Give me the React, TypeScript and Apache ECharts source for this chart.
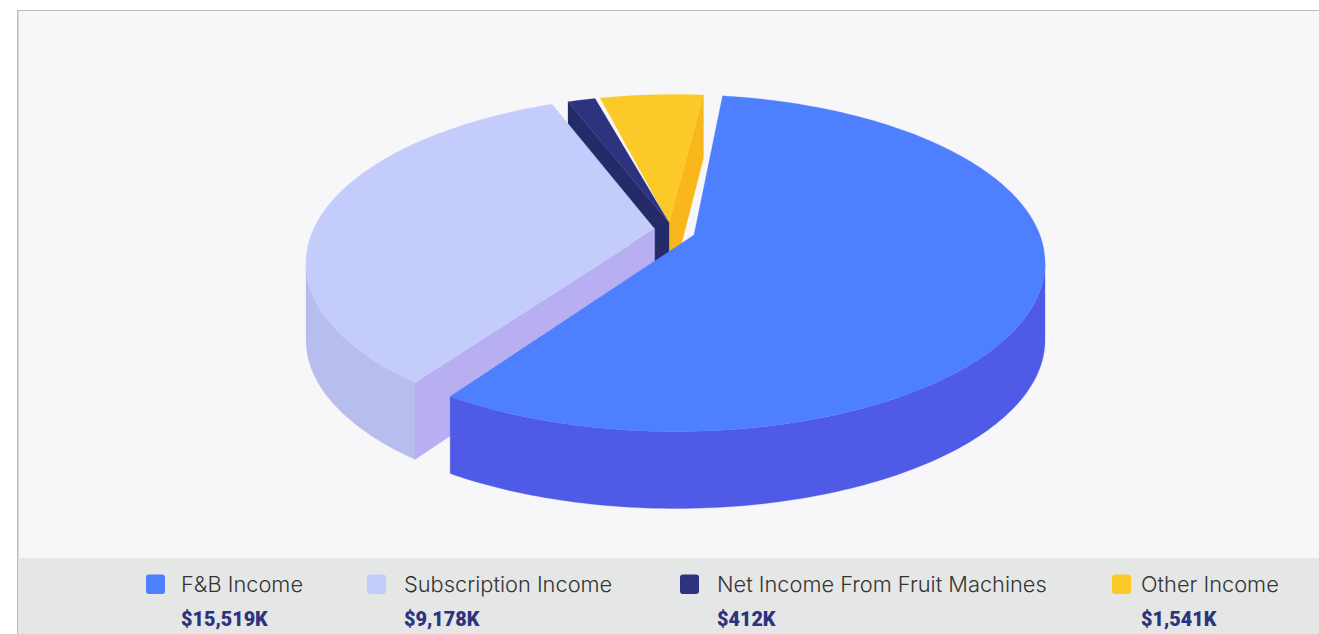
import React, { useEffect, useRef } from "react";
import * as echarts from "echarts";

const categories = ["F&B Income", "Subscription Income", "Net Income From Fruit Machines", "Other Income"];
const values = [15519, 9178, 412, 1541];
const topColors = ["#4d7fff", "#c4ccfb", "#2d337f", "#fbca28"];
const rimWallColors = ["#4f5ae6", "#b7bdec", "#252a68", "#f9b71c"];
const cutWallColors = ["#4f5ae6", "#b8aef2", "#252a68", "#f9b71c"];

// Layout of the tilted pie (not data)
const CX = 675.5, CY = 263, RX = 369.5, RY = 168.5, PERSP = 0.215, DEPTH = 77, BACK_LOSS = 14;
const START_ANGLE = 9.1;
const gapsAfter = [6.1, 3.2, 1.0, 3.7];
const apexShift = [[18.5, 8.2], [-20.8, 2.2], [-6.5, -4.1], [-6.5, -4.1]];
const paintOrder = [3, 2, 1, 0];
const legendX = [146, 367, 680, 1112];
const legendTextX = [181, 404, 717, 1141];

const total = values.reduce((a, b) => a + b, 0);
const usable = 360 - gapsAfter.reduce((a, b) => a + b, 0);
const angles: [number, number][] = [];
{
  let a = START_ANGLE;
  values.forEach((v, i) => {
    const end = a + (v / total) * usable;
    angles.push([a, end]);
    a = end + gapsAfter[i];
  });
}

const rim = (deg: number) => {
  const t = (deg * Math.PI) / 180;
  const X = Math.sin(t), Z = Math.cos(t), d = 1 + PERSP * Z;
  return [CX + (RX * X * Math.sqrt(1 - PERSP * PERSP)) / d, CY - (RY * (Z + PERSP)) / d];
};
const depthAt = (deg: number) => DEPTH - BACK_LOSS * Math.max(0, Math.cos((deg * Math.PI) / 180));
const arcPts = (a: number, b: number) => {
  const n = Math.max(2, Math.ceil(Math.abs(b - a)));
  const out: number[][] = [];
  for (let i = 0; i <= n; i++) out.push(rim(a + ((b - a) * i) / n));
  return out;
};
const lowered = (deg: number) => {
  const p = rim(deg);
  return [p[0], p[1] + depthAt(deg)];
};
// angles at which the rim reaches its widest points: the wall is seen only between them
const SILHOUETTE_RIGHT = (Math.acos(-PERSP) * 180) / Math.PI;
const SILHOUETTE_LEFT = 360 - SILHOUETTE_RIGHT;

const renderSlice = (_params: any, api: any) => {
  const i = api.value(0) as number;
  const [a, b] = angles[i];
  const apex = [CX + apexShift[i][0], CY - RY * PERSP + apexShift[i][1]];
  const apexLow = [apex[0], apex[1] + DEPTH - BACK_LOSS / 2];
  const children: any[] = [];
  const poly = (points: number[][], fill: string) =>
    children.push({ type: "polygon", shape: { points }, style: { fill, stroke: fill, lineWidth: 0.3 } });
  const from = Math.max(a, SILHOUETTE_RIGHT), to = Math.min(b, SILHOUETTE_LEFT);
  if (to > from) {
    const upper = arcPts(from, to);
    const lower = arcPts(from, to).map((_, k, arr) => lowered(from + ((to - from) * k) / (arr.length - 1))).reverse();
    poly([...upper, ...lower], rimWallColors[i]);
  }
  if (i === 1 || i === 2) poly([rim(a), lowered(a), apexLow, apex], cutWallColors[i]);
  if (i === 3) poly([rim(b), lowered(b), apexLow, apex], cutWallColors[i]);
  poly([apex, ...arcPts(a, b)], topColors[i]);
  return { type: "group", children };
};

const money = (v: number) => "$" + v.toLocaleString("en-US") + "K";

export default function App() {
  const ref = useRef<HTMLDivElement>(null);
  useEffect(() => {
    const chart = echarts.init(ref.current!, undefined, { renderer: "svg" });
    const legend: any[] = [];
    categories.forEach((name, i) => {
      legend.push({
        type: "rect", shape: { x: legendX[i], y: 574.5, width: 19, height: 19.5, r: 3 },
        style: { fill: topColors[i] }, z: 5,
      });
      legend.push({
        type: "text", x: legendTextX[i], y: 584, z: 5,
        style: { text: name, fill: "#343434", font: '300 21.8px Inter', textVerticalAlign: "middle", textBaseline: "middle" },
      });
      legend.push({
        type: "text", x: legendTextX[i], y: 619, z: 5,
        style: { text: money(values[i]), fill: "#2d337f", font: '900 19.8px Roboto', textVerticalAlign: "middle", textBaseline: "middle" },
      });
    });
    chart.setOption({
      animation: false,
      backgroundColor: "#ffffff",
      graphic: [
        { type: "rect", shape: { x: 17, y: 10, width: 1302, height: 624 }, style: { fill: "#bdbdbd" }, z: -10 },
        { type: "rect", shape: { x: 18.5, y: 11, width: 1301, height: 623 }, style: { fill: "#f7f7fa" }, z: -9 },
        { type: "rect", shape: { x: 18.5, y: 558, width: 1301, height: 76 }, style: { fill: "#e5e7e6" }, z: -8 },
        ...legend,
      ],
      series: [{
        type: "custom",
        coordinateSystem: "none",
        silent: true,
        renderItem: renderSlice,
        data: paintOrder.map((i) => [i, values[i]]),
      }],
    });
    return () => chart.dispose();
  }, []);
  return <div ref={ref} style={{ position: "fixed", left: 0, top: 0, width: 1319, height: 634 }} />;
}
